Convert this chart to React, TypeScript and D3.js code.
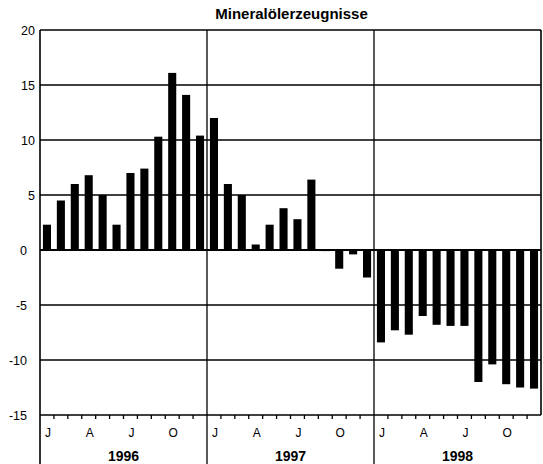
import React from "react";
import * as d3 from "d3";

// monthly values, Jan 1996 .. Dec 1998
const values1996 = [2.3, 4.5, 6.0, 6.8, 5.0, 2.3, 7.0, 7.4, 10.3, 16.1, 14.1, 10.4];
const values1997 = [12.0, 6.0, 5.0, 0.5, 2.3, 3.8, 2.8, 6.4, -0.1, -1.7, -0.4, -2.5];
const values1998 = [-8.4, -7.3, -7.7, -6.0, -6.8, -6.9, -6.9, -12.0, -10.4, -12.2, -12.5, -12.6];
const years = ["1996", "1997", "1998"];
const monthLabels = ["J", "", "", "A", "", "", "J", "", "", "O", "", ""];
const yTicks = [20, 15, 10, 5, 0, -5, -10, -15];
const title = "Mineralölerzeugnisse";

const W = 543;
const H = 464;
const left = 40;
const right = 541;
const top = 30;
const bottom = 415;
const font = "'Liberation Sans', Arial, sans-serif";

export default function App() {
  const values = [...values1996, ...values1997, ...values1998];
  const idx = values.map((_, i) => i);

  const x = d3
    .scaleBand<number>()
    .domain(idx)
    .range([left, right])
    .paddingInner(0.42)
    .paddingOuter(0.21);
  const step = x.step();
  const y = d3.scaleLinear().domain([-15, 20]).range([bottom, top]);

  const yearX = (k: number) => left + step * 12 * k;

  return (
    <svg
      width={W}
      height={H}
      style={{ position: "absolute", left: 0, top: 0, background: "#fff" }}
    >
      <text
        x={(left + right) / 2 + 1}
        y={19}
        textAnchor="middle"
        fontFamily={font}
        fontWeight="bold"
        fontSize={15}
      >
        {title}
      </text>

      {/* horizontal grid */}
      {yTicks
        .filter((t) => t !== 0 && t !== 20 && t !== -15)
        .map((t) => (
          <line key={t} x1={left} x2={right} y1={y(t)} y2={y(t)} stroke="#000" strokeWidth={1.6} />
        ))}

      {/* bars */}
      {values.map((v, i) => (
        <rect
          key={i}
          x={x(i)}
          width={x.bandwidth()}
          y={y(Math.max(0, v))}
          height={Math.abs(y(v) - y(0))}
          fill="#000"
        />
      ))}

      <line x1={left} x2={right} y1={y(0)} y2={y(0)} stroke="#000" strokeWidth={2} />

      {/* frame */}
      <line x1={left} x2={right} y1={top} y2={top} stroke="#000" strokeWidth={1.6} />
      <line x1={left} x2={right} y1={bottom} y2={bottom} stroke="#000" strokeWidth={1.6} />
      <line x1={right} x2={right} y1={top} y2={bottom} stroke="#000" strokeWidth={1.6} />
      <line x1={left} x2={left} y1={top} y2={H} stroke="#000" strokeWidth={1.6} />
      {[1, 2].map((k) => (
        <line key={k} x1={yearX(k)} x2={yearX(k)} y1={top} y2={H} stroke="#000" strokeWidth={1.3} />
      ))}

      {/* month ticks */}
      {idx
        .filter((i) => i > 0 && i % 12 !== 0)
        .map((i) => (
          <line
            key={i}
            x1={left + step * i}
            x2={left + step * i}
            y1={bottom}
            y2={bottom + 4}
            stroke="#000"
            strokeWidth={1.3}
          />
        ))}

      {/* month labels */}
      {idx.map((i) =>
        monthLabels[i % 12] ? (
          <text
            key={i}
            x={(x(i) ?? 0) + x.bandwidth() / 2 + 1}
            y={437}
            textAnchor="middle"
            fontFamily={font}
            fontSize={12}
          >
            {monthLabels[i % 12]}
          </text>
        ) : null
      )}

      {years.map((yr, k) => (
        <text
          key={yr}
          x={yearX(k) + step * 6}
          y={461}
          textAnchor="middle"
          fontFamily={font}
          fontWeight="bold"
          fontSize={14}
        >
          {yr}
        </text>
      ))}

      {/* y labels */}
      {yTicks.map((t) => (
        <text
          key={t}
          x={t > 0 ? 35 : 27}
          y={y(t) + 4.5}
          textAnchor="end"
          fontFamily={font}
          fontSize={12.5}
        >
          {t}
        </text>
      ))}
    </svg>
  );
}
